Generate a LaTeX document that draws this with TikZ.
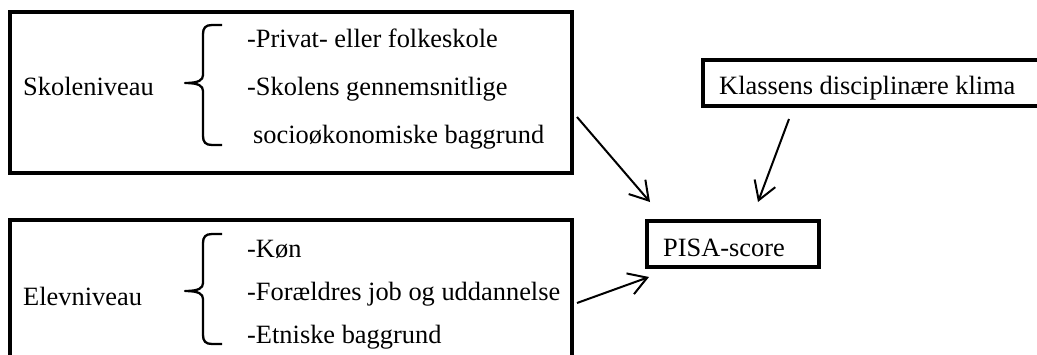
\documentclass[tikz,border=0pt]{standalone}
\usepackage{fontspec}
\setmainfont{Liberation Serif}
\usetikzlibrary{arrows.meta}
\tikzset{
  box/.style={draw=black, line width=4pt, rectangle, inner sep=0pt, fill=none},
  txt/.style={anchor=base west, inner sep=0pt, font=\fontsize{26.4pt}{30pt}\selectfont},
  arr/.style={draw=black, line width=2pt, -{Straight Barb[length=18pt,width=22pt,line width=2pt]}},
  bracestyle/.style={draw=black, line width=2.3pt, line join=round}
}
\newcommand\mybrace[3]{%
  \draw[bracestyle] (222,#1) -- (212,#1) .. controls (205.5,#1) and (203,#1+3) .. (203,#1+9)
    -- (203,#2-8) .. controls (203,#2-3) and (199,#2) .. (185,#2)
    .. controls (199,#2) and (203,#2+3) .. (203,#2+8)
    -- (203,#3-9) .. controls (203,#3-3) and (205.5,#3) .. (212,#3) -- (222,#3);}
\begin{document}
\begin{tikzpicture}[x=1pt,y=-1pt]
\useasboundingbox (0,0) rectangle (1037,354);
\clip (0,0) rectangle (1037,354);
\fill[white] (0,0) rectangle (1037,354);
% boxes
\node[box, minimum width=562.5pt, minimum height=161pt] (skole) at (290.75,92.5) {};
\node[box, minimum width=562.5pt, minimum height=161pt] (elev) at (290.75,300.5) {};
\node[box, minimum width=342pt, minimum height=46pt] (klasse) at (874,83) {};
\node[box, minimum width=172pt, minimum height=46pt] (pisa) at (733,244) {};
% texts
\node[txt] (t1) at (23,95) {Skoleniveau};
\node[txt] (t2) at (247,47) {-Privat- eller folkeskole};
\node[txt] (t3) at (247,95) {-Skolens gennemsnitlige};
\node[txt] (t4) at (253,143) {socioøkonomiske baggrund};
\node[txt] (t5) at (23,305) {Elevniveau};
\node[txt] (t6) at (247,257) {-Køn};
\node[txt] (t7) at (247,300) {-Forældres job og uddannelse};
\node[txt] (t8) at (247,343) {-Etniske baggrund};
\node[txt] (t9) at (719,94) {Klassens disciplinære klima};
\node[txt] (t10) at (663,256) {PISA-score};
% braces
\mybrace{25}{83}{145}
\mybrace{234}{291}{344}
% arrows
\draw[arr] ([xshift=3pt,yshift=-24.5pt]skole.east) -- ([xshift=5pt,yshift=17pt]pisa.north west);
\draw[arr] ([xshift=88pt,yshift=-11pt]klasse.south west) -- ([xshift=113pt,yshift=17pt]pisa.north west);
\draw[arr] ([xshift=3pt,yshift=-2.5pt]elev.east) -- ([xshift=4pt,yshift=-8pt]pisa.south west);
\end{tikzpicture}
\end{document}
